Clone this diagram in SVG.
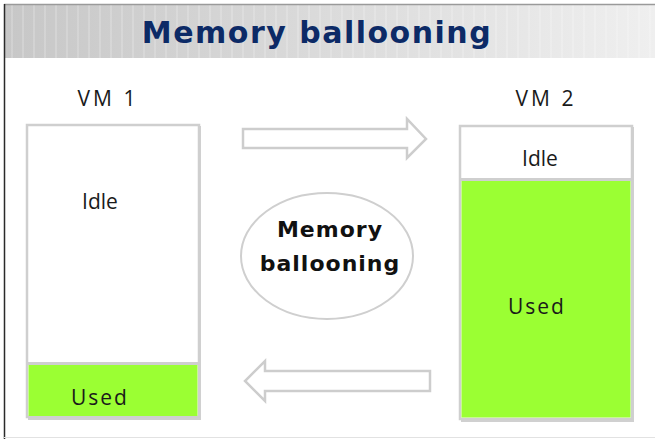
<svg xmlns="http://www.w3.org/2000/svg" width="655" height="439" viewBox="0 0 655 439">
<style>
.lbl{font-family:"Open Sans","DejaVu Sans",sans-serif;font-size:21px;fill:#1a1a1a;text-anchor:middle}
.box{fill:#fff;stroke:#cfcfcf;stroke-width:2.5}
.used{fill:#9bff33}
.arrow{fill:#fff;stroke:#cdcdcd;stroke-width:2.5;stroke-linejoin:miter}
.bal{font-family:"DejaVu Sans",sans-serif;font-weight:bold;font-size:22px;fill:#111;text-anchor:middle;letter-spacing:1px}
</style>
<defs>
<linearGradient id="banner" x1="0" y1="0" x2="1" y2="0">
<stop offset="0" stop-color="#c7c7c7"/>
<stop offset="1" stop-color="#efefef"/>
</linearGradient>
<pattern id="stripes" x="0" y="0" width="11" height="60" patternUnits="userSpaceOnUse">
<rect x="0" y="0" width="2" height="60" fill="#ffffff" opacity="0.18"/>
</pattern>
</defs>
<rect x="0" y="0" width="655" height="439" fill="#fff"/>
<g id="title">
<rect x="4" y="4" width="651" height="54" fill="url(#banner)"/>
<rect x="4" y="4" width="651" height="54" fill="url(#stripes)"/>
<line x1="4" y1="4.5" x2="655" y2="4.5" stroke="#9a9a9a" stroke-width="1.5"/>
<text x="317" y="43" font-family="'DejaVu Sans',sans-serif" font-weight="bold" font-size="30" fill="#0c2a66" text-anchor="middle" letter-spacing="1.5">Memory ballooning</text>
</g>
<line x1="4.5" y1="4" x2="4.5" y2="439" stroke="#2a2a2a" stroke-width="1.5"/>
<line x1="4" y1="437.5" x2="655" y2="437.5" stroke="#e2e2e2" stroke-width="1"/>
<g id="vm1">
<text class="lbl" x="108" y="106" letter-spacing="3">VM 1</text>
<rect x="28" y="126" width="173" height="294" fill="#d0d0d0"/>
<rect class="box" x="27" y="125" width="172" height="292"/>
<rect class="used" x="28.5" y="365" width="169" height="51"/>
<line x1="27" y1="363.5" x2="199" y2="363.5" stroke="#cfcfcf" stroke-width="3"/>
<text class="lbl" x="100" y="209">Idle</text>
<text class="lbl" x="100" y="405" letter-spacing="2">Used</text>
</g>
<g id="vm2">
<text class="lbl" x="546" y="106" letter-spacing="3">VM 2</text>
<rect x="461" y="127" width="173" height="295" fill="#d0d0d0"/>
<rect class="box" x="460" y="126" width="172" height="293"/>
<rect class="used" x="461.5" y="181" width="169" height="236.5"/>
<line x1="460" y1="179.5" x2="632" y2="179.5" stroke="#cfcfcf" stroke-width="3"/>
<text class="lbl" x="540" y="166">Idle</text>
<text class="lbl" x="537" y="314" letter-spacing="2">Used</text>
</g>
<g id="balloon">
<ellipse cx="327" cy="256" rx="86" ry="63" fill="#fff" stroke="#cfcfcf" stroke-width="2"/>
<text class="bal" x="330" y="237">Memory</text>
<text class="bal" x="330" y="271">ballooning</text>
</g>
<g id="connectors">
<path class="arrow" d="M243,129 L407,129 L407,119 L426,139 L407,158 L407,148 L243,148 Z"/>
<path class="arrow" d="M430,371 L265,371 L265,361 L245,381 L265,401 L265,391 L430,391 Z"/>
</g>
</svg>
